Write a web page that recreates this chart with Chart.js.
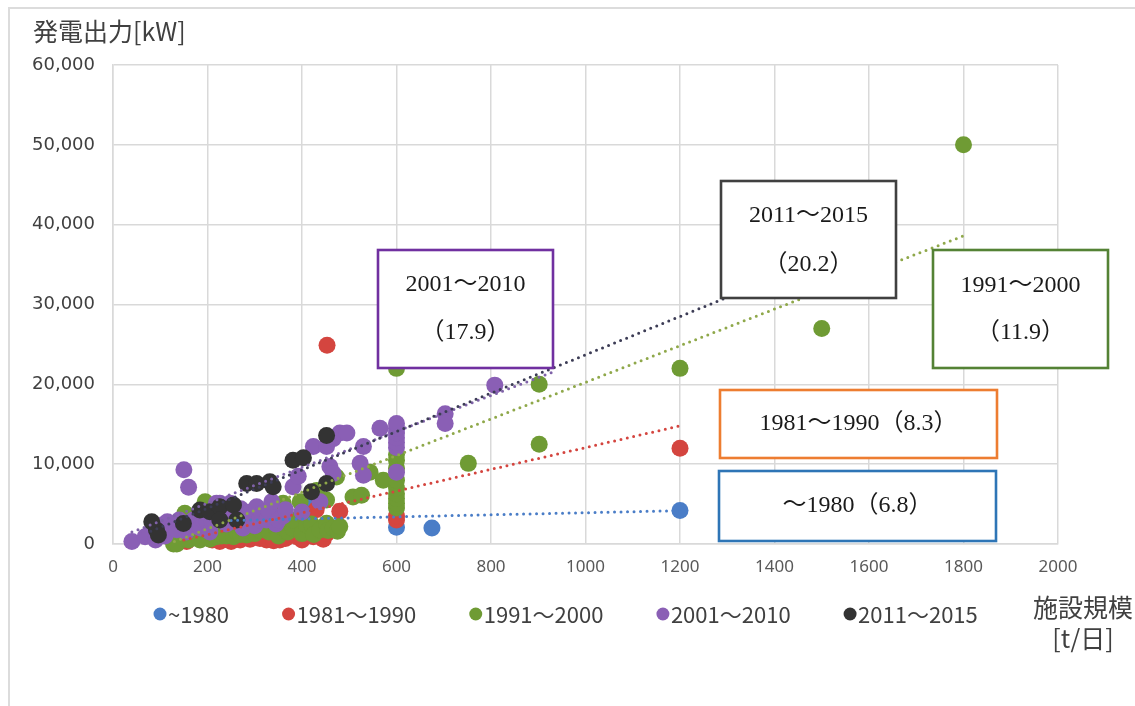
<!DOCTYPE html>
<html lang="ja">
<head>
<meta charset="utf-8">
<title>発電出力と施設規模</title>
<script src="https://cdn.jsdelivr.net/npm/chart.js@4.4.1/dist/chart.umd.min.js"></script>
<style>
  html, body { margin: 0; padding: 0; background: #fff; }
  #wrap { position: relative; width: 1135px; height: 706px; overflow: hidden; }
  #frame {
    position: absolute; left: 8px; top: 7px; right: -4px; bottom: -4px;
    border-left: 2px solid #dcdcdc; border-top: 2px solid #dcdcdc;
    pointer-events: none;
  }
</style>
</head>
<body>
<div id="wrap">
  <canvas id="chart"></canvas>
  <div id="frame"></div>
</div>
<script>
// 施設規模 [t/日] vs 発電出力 [kW], one list of [x, y] per period
const s1980 = [
  [262, 2800], [300, 2600], [330, 3000], [410, 4700], [450, 2200],
  [600, 2100], [675, 2000], [1200, 4200]
];
const s1981 = [
  [156, 300], [190, 800], [210, 500], [226, 300], [240, 600], [250, 300],
  [269, 500], [280, 900], [290, 600], [311, 700], [325, 500], [340, 400],
  [353, 500], [365, 700], [375, 1400], [389, 900], [400, 500], [406, 3800],
  [424, 900], [438, 1000], [445, 600], [452, 1300], [430, 4300], [480, 4100],
  [453, 24900], [600, 3000], [600, 3500], [1200, 12000]
];
const s1991 = [
  [128, 0], [135, 0], [152, 3840], [160, 500], [184, 500], [195, 5300],
  [198, 1400], [205, 600], [219, 920], [230, 1000], [240, 1000], [255, 920],
  [262, 1500], [270, 1200], [283, 1130], [297, 2000], [300, 1300], [311, 1750],
  [318, 3840], [330, 1500], [346, 1960], [350, 1000], [360, 5090], [360, 2000],
  [370, 1500], [381, 1960], [380, 3000], [396, 5300], [400, 1300], [410, 2380],
  [420, 2500], [425, 1200], [431, 6700], [438, 1750], [452, 5500], [452, 2600],
  [455, 1700], [466, 1960], [473, 8400], [475, 1600], [480, 2200], [508, 5900],
  [526, 6100], [544, 9000], [572, 8000],
  [600, 4500], [600, 5100], [600, 5700], [600, 6300], [600, 7000], [600, 8000],
  [600, 9500], [600, 10500], [600, 11200], [600, 22000],
  [752, 10100], [902, 12500], [902, 20000], [1200, 22000], [1500, 27000], [1800, 50000]
];
const s2001 = [
  [40, 300], [68, 900], [78, 1300], [90, 500], [100, 2000], [106, 2400],
  [110, 1000], [115, 2800], [127, 2200], [135, 1800], [140, 3000], [150, 9300],
  [155, 1500], [160, 7100], [163, 2200], [170, 3000], [175, 2500], [185, 2000],
  [191, 3000], [195, 3800], [198, 3000], [205, 1500], [210, 2800], [212, 4250],
  [219, 5100], [226, 5100], [230, 3200], [240, 2500], [245, 4000], [248, 5100],
  [254, 3400], [260, 2800], [262, 3870], [270, 4400], [275, 2000], [283, 3000],
  [285, 3800], [290, 4000], [300, 2300], [304, 4660], [310, 3000], [315, 3800],
  [325, 3000], [330, 4200], [336, 5300], [345, 2500], [350, 3000], [360, 3500],
  [365, 4300], [381, 7160], [392, 8500], [400, 4000], [424, 12200], [438, 5300],
  [452, 12200], [459, 9700], [466, 8840], [466, 13200], [480, 13900], [495, 13900],
  [523, 10100], [530, 12200], [530, 8600], [565, 14500],
  [600, 9000], [600, 12100], [600, 12700], [600, 13300], [600, 13900], [600, 14500], [600, 15100],
  [703, 16300], [703, 15100], [808, 19900]
];
const s2011 = [
  [82, 2800], [92, 1750], [96, 1130], [149, 2580], [184, 4250], [205, 4040],
  [226, 4660], [226, 3000], [255, 4875], [262, 3000], [283, 7590], [304, 7590],
  [332, 7800], [339, 7160], [381, 10500], [403, 10800], [420, 6540], [452, 7590],
  [452, 13600]
];

// 近似直線 (start, end)
const trend1980 = [[250, 2950], [1200, 4180]];
const trend1981 = [[150, 500], [1200, 14800]];
const trend1991 = [[130, 300], [1800, 38600]];
const trend2001 = [[40, 1500], [940, 21750]];
const trend2011 = [[80, 1600], [1300, 30900]];

const seriesLabels = ["~1980", "1981～1990", "1991～2000", "2001～2010", "2011～2015"];
const seriesColors = ["#4a7dc7", "#d4453f", "#6f9b34", "#8a5fb5", "#333333"];
const trendColors = ["#4a7dc7", "#d4453f", "#8fa84a", "#7f62a8", "#3c3c55"];

const xTicks = [0, 200, 400, 600, 800, 1000, 1200, 1400, 1600, 1800, 2000];
const yTicks = [0, 10000, 20000, 30000, 40000, 50000, 60000];

const notes = [
  { lines: ["2001～2010", "（17.9）"], color: "#7030a0", box: [378, 250, 175, 118], rows: [285, 333] },
  { lines: ["2011～2015", "（20.2）"], color: "#404040", box: [721, 181, 175, 117], rows: [216, 265] },
  { lines: ["1991～2000", "（11.9）"], color: "#548235", box: [933, 250, 175, 118], rows: [286, 333] },
  { lines: ["1981～1990（8.3）"], color: "#ed7d31", box: [720, 390, 277, 68], rows: [424] },
  { lines: ["～1980（6.8）"], color: "#2e75b6", box: [719, 471, 277, 70], rows: [506] }
];

const toPts = arr => arr.map(([x, y]) => ({ x, y }));
const pointSets = [s1980, s1981, s1991, s2001, s2011];
const trendSets = [trend1980, trend1981, trend1991, trend2001, trend2011];

const datasets = [];
pointSets.forEach((pts, i) => {
  datasets.push({
    label: seriesLabels[i],
    data: toPts(pts),
    backgroundColor: seriesColors[i],
    borderWidth: 0,
    pointRadius: 8.5,
    pointHoverRadius: 8.5,
    clip: false,
    order: 10 - i,
    inLegend: true
  });
});
trendSets.forEach((pts, i) => {
  datasets.push({
    type: "line",
    label: "trend " + seriesLabels[i],
    data: toPts(pts),
    borderColor: trendColors[i],
    borderWidth: 3,
    borderDash: [0, 6.5],
    borderCapStyle: "round",
    pointRadius: 0,
    fill: false,
    order: -1 - i
  });
});

const SANS = '"Noto Sans", "Noto Sans CJK JP", sans-serif';
const JP = '"Noto Sans CJK JP", "Noto Sans", sans-serif';
const SERIF = '"Liberation Serif", "Noto Sans CJK JP", serif';

const overlay = {
  id: "overlay",
  afterDraw(chart) {
    const c = chart.ctx;
    c.save();

    // axis titles
    c.fillStyle = "#404040";
    c.textBaseline = "middle";
    c.font = "25px " + JP;
    c.textAlign = "left";
    c.fillText("発電出力[kW]", 33, 31);
    c.textAlign = "center";
    c.fillText("施設規模", 1083, 607);
    c.fillText("[t/日]", 1083, 638);

    // legend
    c.font = "22px " + JP;
    const items = chart.data.datasets.filter(d => d.inLegend);
    const r = 6.5, gapText = 8, gapItem = 59.5;
    let x = 160;
    const ly = 614;
    items.forEach(d => {
      c.beginPath();
      c.arc(x, ly, r, 0, Math.PI * 2);
      c.fillStyle = d.backgroundColor;
      c.fill();
      c.fillStyle = "#404040";
      c.textAlign = "left";
      c.fillText(d.label, x + gapText, ly + 1);
      x += gapText + c.measureText(d.label).width + gapItem;
    });

    // trend slope notes
    c.font = "24px " + SERIF;
    notes.forEach(n => {
      const [bx, by, bw, bh] = n.box;
      c.fillStyle = "#ffffff";
      c.fillRect(bx, by, bw, bh);
      c.strokeStyle = n.color;
      c.lineWidth = 2.6;
      c.strokeRect(bx, by, bw, bh);
      c.fillStyle = "#1a1a1a";
      c.textAlign = "center";
      n.lines.forEach((t, k) => c.fillText(t, bx + bw / 2, n.rows[k]));
    });

    c.restore();
  }
};

new Chart(document.getElementById("chart"), {
  type: "scatter",
  data: { datasets },
  options: {
    responsive: true,
    maintainAspectRatio: false,
    animation: false,
    events: [],
    layout: { padding: { left: 0, right: 77, top: 65, bottom: 122 } },
    plugins: { legend: { display: false }, tooltip: { enabled: false } },
    scales: {
      x: {
        type: "linear",
        min: xTicks[0],
        max: xTicks[xTicks.length - 1],
        afterBuildTicks: s => { s.ticks = xTicks.map(v => ({ value: v })); },
        afterFit: s => { s.height = 40; },
        ticks: {
          color: "#595959",
          font: { family: SANS, size: 17 },
          padding: 13,
          callback: v => String(v)
        },
        grid: { color: "#d9d9d9", lineWidth: 1.5, drawTicks: false },
        border: { color: "#d9d9d9", width: 1.5 }
      },
      y: {
        min: yTicks[0],
        max: yTicks[yTicks.length - 1],
        afterBuildTicks: s => { s.ticks = yTicks.map(v => ({ value: v })); },
        afterFit: s => { s.width = 113; },
        ticks: {
          color: "#404040",
          font: { family: '"DejaVu Sans", sans-serif', size: 18 },
          padding: 18,
          callback: v => v.toLocaleString("en-US")
        },
        grid: { color: "#d9d9d9", lineWidth: 1.5, drawTicks: false },
        border: { color: "#d9d9d9", width: 1.5 }
      }
    }
  },
  plugins: [overlay]
});
</script>
</body>
</html>
